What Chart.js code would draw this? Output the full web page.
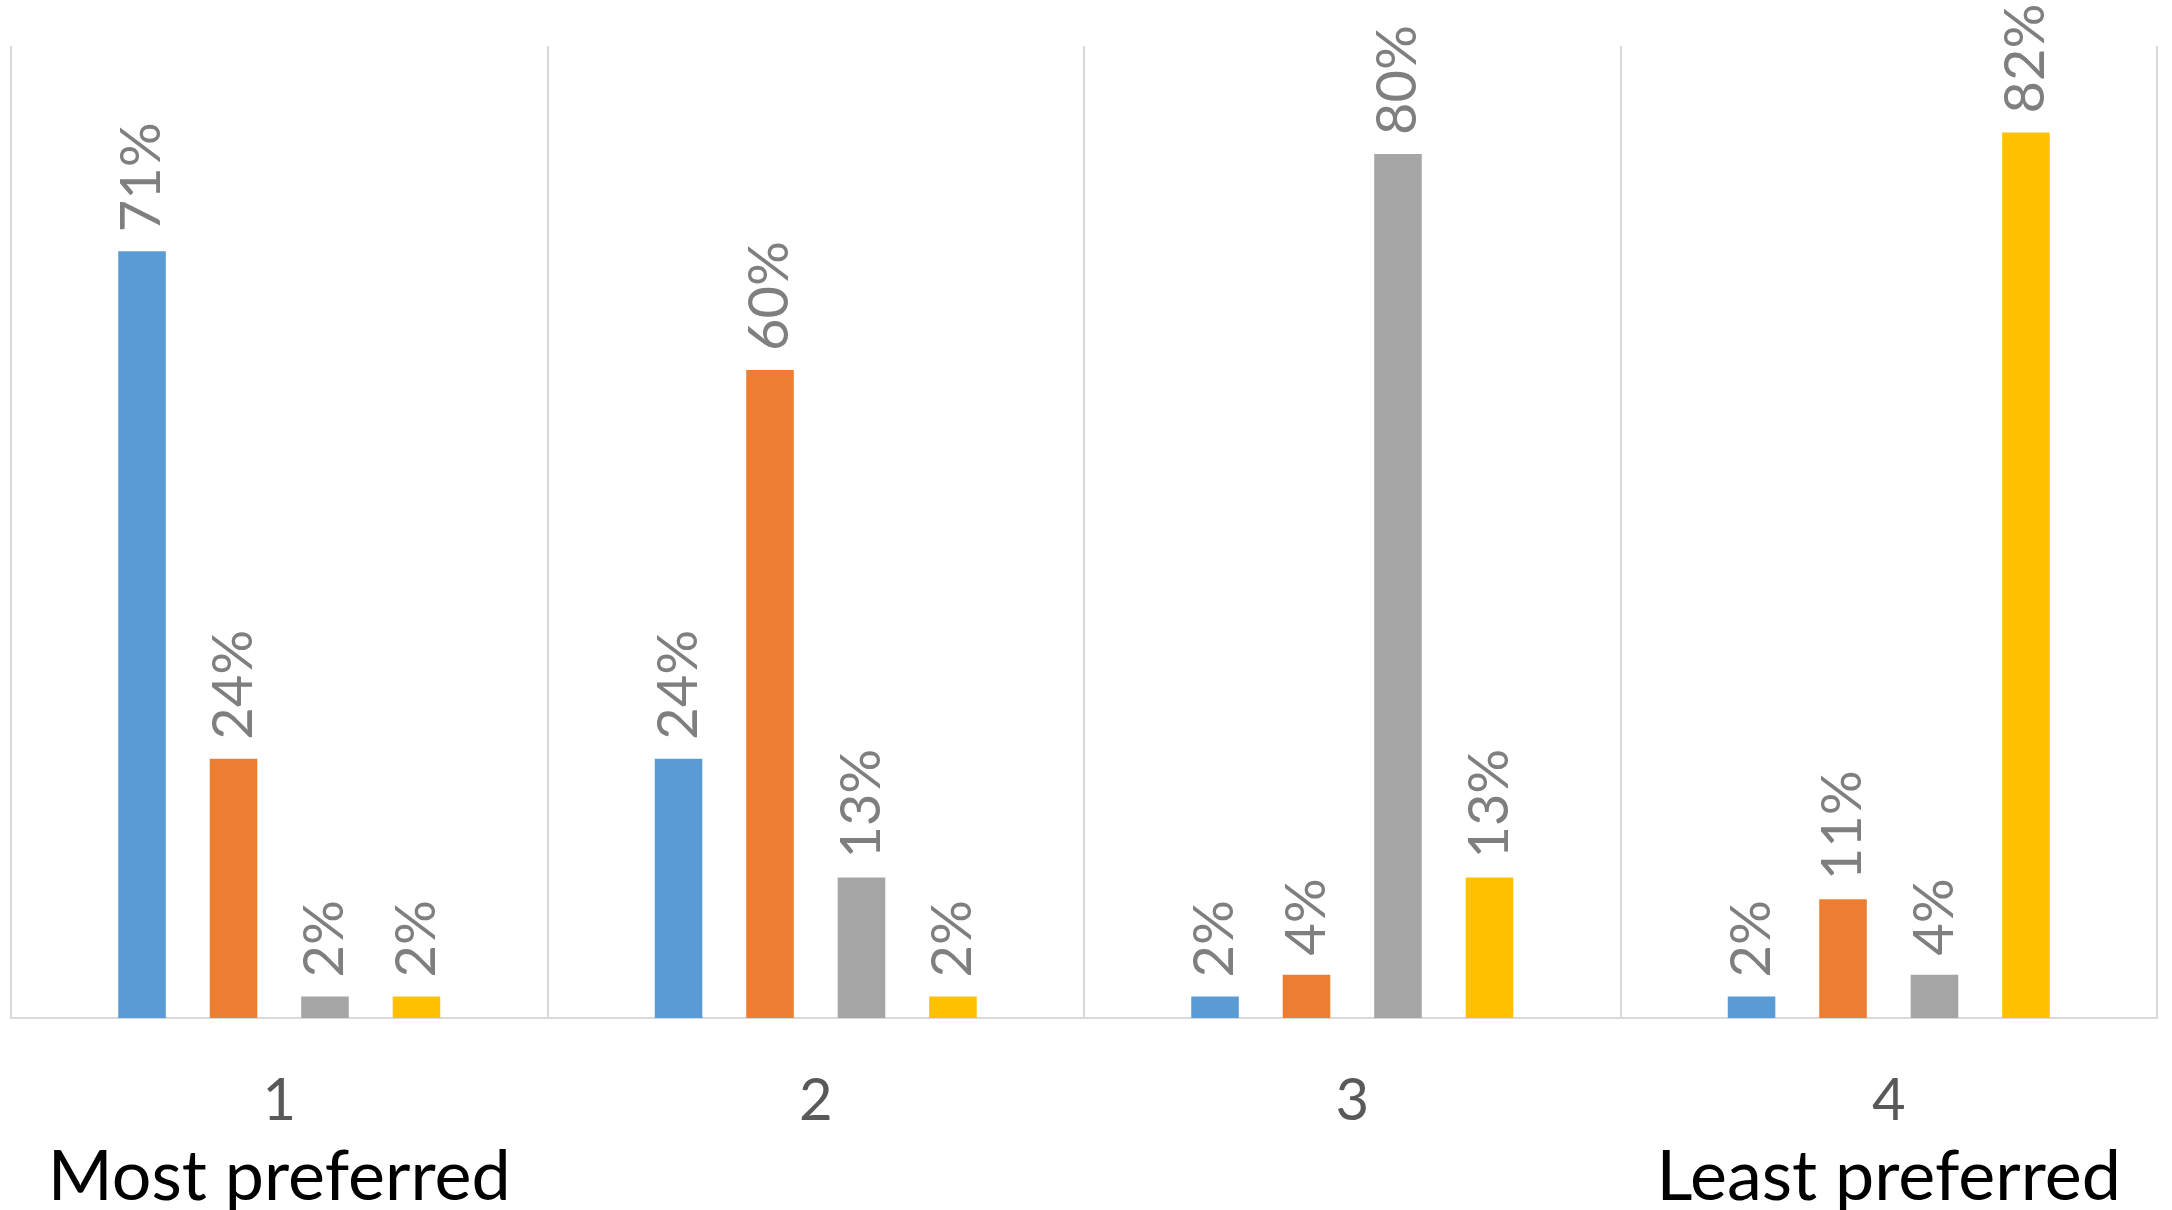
<!DOCTYPE html>
<html>
<head>
<meta charset="utf-8">
<script src="https://cdn.jsdelivr.net/npm/chart.js@4/dist/chart.umd.min.js"></script>
<style>
  html, body { margin: 0; padding: 0; background: #ffffff; }
  #wrap { width: 2172px; height: 1210px; }
</style>
</head>
<body>
<div id="wrap"><canvas id="chart" width="2172" height="1210"></canvas></div>
<script>
// Preference rank categories and the caption under the first and last rank
const ranks = ['1', '2', '3', '4'];
const rankCaptions = ['Most preferred', '', '', 'Least preferred'];

// Share of respondents (%) giving each option the rank
const optionA = [71, 24, 2, 2];
const optionB = [24, 60, 4, 11];
const optionC = [2, 13, 80, 4];
const optionD = [2, 2, 13, 82];

const seriesNames = ['Option A', 'Option B', 'Option C', 'Option D'];
const seriesColors = ['#5B9BD5', '#ED7D31', '#A5A5A5', '#FFC000'];

const FONT = 'Lato, "Open Sans", "Noto Sans", sans-serif';

// Vertical value labels drawn just above each bar
const barValueLabels = {
  id: 'barValueLabels',
  afterDatasetsDraw(chart) {
    const ctx = chart.ctx;
    ctx.save();
    ctx.fillStyle = '#7F7F7F';
    ctx.font = '56px ' + FONT;
    ctx.textAlign = 'left';
    ctx.textBaseline = 'middle';
    chart.data.datasets.forEach((ds, i) => {
      const meta = chart.getDatasetMeta(i);
      meta.data.forEach((bar, j) => {
        ctx.save();
        ctx.translate(bar.x, bar.y - 19);
        ctx.rotate(-Math.PI / 2);
        ctx.fillText(ds.data[j] + '%', 0, 0);
        ctx.restore();
      });
    });
    ctx.restore();
  }
};

const allSeries = [optionA, optionB, optionC, optionD];

new Chart(document.getElementById('chart'), {
  type: 'bar',
  data: {
    labels: ranks,
    datasets: allSeries.map((vals, i) => ({
      label: seriesNames[i],
      data: vals,
      backgroundColor: seriesColors[i],
      borderWidth: 0,
      categoryPercentage: 0.682,
      barPercentage: 0.52
    }))
  },
  options: {
    responsive: false,
    devicePixelRatio: 1,
    animation: false,
    layout: { padding: { left: 11, right: 15, top: 46, bottom: 0 } },
    plugins: {
      legend: { display: false },
      tooltip: { enabled: false }
    },
    scales: {
      y: {
        display: false,
        min: 0,
        max: 90
      },
      x: {
        type: 'category',
        position: 'bottom',
        weight: 0,
        offset: true,
        grid: {
          display: true,
          offset: true,
          color: '#D9D9D9',
          lineWidth: 2,
          drawTicks: false
        },
        border: { display: true, color: '#D9D9D9', width: 2 },
        ticks: {
          color: '#595959',
          font: { family: FONT, size: 58, lineHeight: 1.2 },
          padding: 48,
          maxRotation: 0,
          autoSkip: false
        },
        afterFit(scale) { scale.height = 120; }
      },
      x2: {
        type: 'category',
        position: 'bottom',
        weight: 1,
        labels: rankCaptions,
        offset: true,
        grid: { display: false, drawTicks: false },
        border: { display: false },
        ticks: {
          color: '#000000',
          font: { family: FONT, size: 70, lineHeight: 1.0 },
          padding: 4,
          maxRotation: 0,
          autoSkip: false
        },
        afterFit(scale) { scale.height = 72; }
      }
    }
  },
  plugins: [barValueLabels]
});
</script>
</body>
</html>
